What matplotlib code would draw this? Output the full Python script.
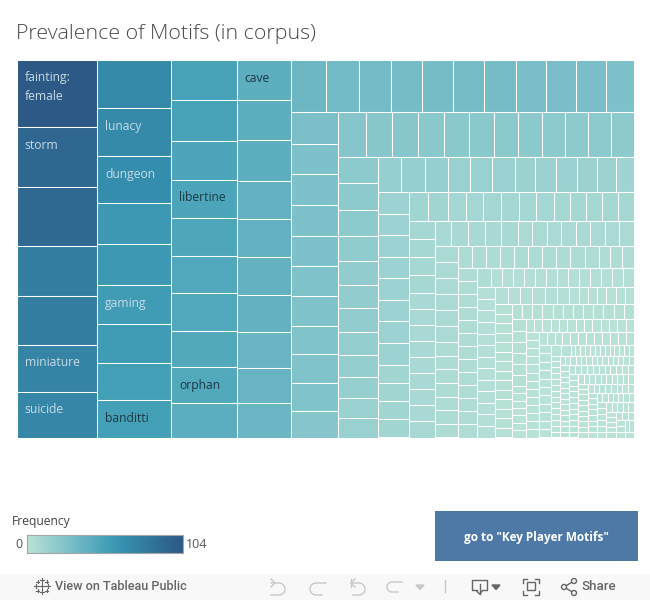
"""
Prevalence of Motifs treemap (Tableau style dashboard)
"""

import numpy as np
import matplotlib
matplotlib.use('Agg')
import matplotlib.pyplot as plt
from matplotlib.colors import LinearSegmentedColormap, Normalize
from matplotlib.patches import Rectangle, Circle

plt.rcParams['font.family'] = ['Open Sans', 'DejaVu Sans']

# Frequencies per strip of the treemap, largest first
col_1 = [104, 93, 92, 76, 76, 73, 71]
col_2 = [69, 69, 66, 59, 59, 56, 56, 53, 53]
col_3 = [51, 51, 49, 49, 48, 47, 47, 46, 46, 43]
col_4 = [42, 42, 42, 40, 40, 39, 39, 37, 37, 36]
row_5 = [35, 33, 32, 31, 31, 31, 31, 30, 30, 30, 28]
col_6 = [29, 28, 28, 28, 28, 27, 27, 26, 26, 26, 24]
row_7 = [24, 23, 23, 22, 22, 22, 21, 21, 20, 20, 20, 20]
col_8 = [20, 20, 20, 19, 18, 18, 18, 17, 17, 16, 15, 15]
row_9 = [16, 16, 16, 15, 15, 15, 14, 14, 14, 14, 13, 12]
col_10 = [13, 13, 13, 13, 13, 13, 13, 13, 11, 11, 11, 11]
row_11 = [11, 11, 10, 10, 10, 10, 10, 10, 9, 9, 9, 9, 9]
col_12 = [9, 9, 9, 9, 8, 8, 8, 8, 8, 8, 8, 8, 8]
row_13 = [8, 8, 8, 8, 8, 7, 7, 7, 7, 7, 7, 7, 7]
col_14 = [7, 7, 7, 7, 7, 7, 6, 6, 6, 6, 6, 6, 6]
row_15 = [6, 6, 6, 6, 6, 6, 6, 6, 6, 6, 5, 5, 5]
col_16 = [5] * 13
row_17 = [5] + [4] * 13
col_18 = [4] * 13
row_19 = [4, 4, 4, 4, 4, 4, 3, 3, 3, 3, 3, 3, 3]
col_20 = [3] * 14
row_21 = [3] * 12
col_22 = [3, 3, 3, 3, 3, 3, 2, 2, 2, 2, 2, 2, 2]
row_23 = [2] * 13
col_24 = [2] * 13
row_25 = [2] * 12
col_26 = [2] * 11
row_27 = [2, 2] + [1] * 13
ones_counts = [14, 14, 13, 11, 11, 10, 10, 8, 8, 7, 6, 5, 5, 3, 3, 2, 1]

strips = [col_1, col_2, col_3, col_4, row_5, col_6, row_7, col_8, row_9,
          col_10, row_11, col_12, row_13, col_14, row_15, col_16, row_17,
          col_18, row_19, col_20, row_21, col_22, row_23, col_24, row_25,
          col_26, row_27]
directions = ['col', 'col', 'col', 'col', 'row', 'col', 'row', 'col', 'row',
              'col', 'row', 'col', 'row', 'col', 'row', 'col', 'row',
              'col', 'row', 'col', 'row', 'col', 'row', 'col', 'row',
              'col', 'row']

# Tail of single-count motifs keeps swapping direction
for i, n in enumerate(ones_counts):
    strips.append([1] * n)
    directions.append('col' if i % 2 == 0 else 'row')

# (strip index, cell index): label
labels = {
    (0, 0): 'fainting:\nfemale',
    (0, 1): 'storm',
    (0, 5): 'miniature',
    (0, 6): 'suicide',
    (1, 1): 'lunacy',
    (1, 2): 'dungeon',
    (1, 5): 'gaming',
    (1, 8): 'banditti',
    (2, 3): 'libertine',
    (2, 8): 'orphan',
    (3, 0): 'cave',
}

legend_min = 0
legend_max = 104

COLORS = ['#bce4d8', '#aedcd5', '#a1d5d2', '#95cecf', '#89c8cc', '#7ec1ca',
          '#72bac6', '#66b2c2', '#59acbe', '#4ba5ba', '#419eb6', '#3b96b2',
          '#358ead', '#3586a7', '#347ea1', '#32779b', '#316f96', '#2f6790',
          '#2d608a', '#2c5985']
cmap = LinearSegmentedColormap.from_list('tealblue', COLORS)
norm = Normalize(legend_min, legend_max)


def layout_cells(strips, directions, width, height):
    """Slice a width x height area into strips, sized by their share of the total"""
    x, y = 0.0, 0.0
    remaining = float(sum(sum(s) for s in strips))
    cells = []
    for idx, (strip, direction) in enumerate(zip(strips, directions)):
        total = sum(strip)
        share = total / remaining
        if direction == 'col':
            w = width * share
            pos = y
            for j, v in enumerate(strip):
                h = height * v / total
                cells.append((idx, j, v, x, pos, w, h))
                pos += h
            x += w
            width -= w
        else:
            h = height * share
            pos = x
            for j, v in enumerate(strip):
                w = width * v / total
                cells.append((idx, j, v, pos, y, w, h))
                pos += w
            y += h
            height -= h
        remaining -= total
    return cells


def draw_treemap(fig):
    ax = fig.add_axes([16.5 / 650, 1 - 437.5 / 600, 617.5 / 650, 377.5 / 600])
    ax.set_xlim(0, 617.5)
    ax.set_ylim(377.5, 0)
    ax.axis('off')

    for idx, j, v, x, y, w, h in layout_cells(strips, directions, 617.5, 377.5):
        ax.add_patch(Rectangle((x, y), w, h, facecolor=cmap(norm(v)),
                               edgecolor='white', linewidth=0.75))
        text = labels.get((idx, j))
        if text:
            color = '#1d3a45' if v < 55 else '#c6dbe6'
            ax.text(x + 8, y + 11.5, text, color=color, fontsize=8.7, va='top',
                    ha='left', linespacing=1.55)


def draw_legend(fig, page):
    page.text(12, 521, 'Frequency', fontsize=8.7, color='#444444', va='center')
    page.text(23, 544, str(legend_min), fontsize=9, color='#555555',
              va='center', ha='right')
    page.text(186, 544, str(legend_max), fontsize=9, color='#555555', va='center')

    bar = fig.add_axes([27 / 650, 1 - 553 / 600, 156 / 650, 18 / 600])
    bar.imshow(np.linspace(0, 1, 256).reshape(1, -1), cmap=cmap, aspect='auto')
    bar.set_xticks([])
    bar.set_yticks([])
    for spine in bar.spines.values():
        spine.set_color('#a5a5a5')
        spine.set_linewidth(0.8)


def draw_toolbar(page):
    page.add_patch(Rectangle((0, 574), 650, 26, facecolor='#f8f8f8', edgecolor='none'))
    dark = '#666666'
    light = '#c8c8c8'

    # Tableau logo, made of small plus signs
    for cx, cy, r in [(42, 586, 4), (42, 580, 2), (42, 592, 2), (36, 586, 2), (48, 586, 2),
                      (37.5, 581.5, 1.5), (46.5, 581.5, 1.5), (37.5, 590.5, 1.5), (46.5, 590.5, 1.5)]:
        page.plot([cx - r, cx + r], [cy, cy], color=dark, lw=0.8)
        page.plot([cx, cx], [cy - r, cy + r], color=dark, lw=0.8)
    page.text(55, 586.5, 'View on Tableau Public', fontsize=9.1, color=dark, va='center',
              family='Roboto', fontweight='medium')

    # undo, redo, undo all, redo all
    t = np.linspace(-np.pi / 2, np.pi / 2, 30)
    page.plot([271, 279] + list(279 + 6 * np.cos(t)) + [271],
              [583, 583] + list(589 + 6 * np.sin(t)) + [595], color=light, lw=1)
    page.plot([271, 275, 271], [579, 583, 587], color=light, lw=1)
    page.plot([326, 316] + list(316 - 6 * np.cos(t)) + [322],
              [583, 583] + list(589 + 6 * np.sin(t)) + [595], color=light, lw=1)
    page.plot([351, 359] + list(359 + 6 * np.cos(t)) + [353],
              [583, 583] + list(589 + 6 * np.sin(t)) + [595], color=light, lw=1)
    page.plot([351, 351], [579, 587], color=light, lw=1)
    page.plot([355, 351, 355], [579, 583, 587], color=light, lw=1)
    page.plot([402, 392] + list(392 - 5 * np.cos(t)) + [398],
              [582, 582] + list(587 + 5 * np.sin(t)) + [592], color=light, lw=1)
    page.fill([416, 424, 420], [585, 585, 589.5], color=light)
    page.plot([445, 445], [580, 592], color=light, lw=1)

    # download
    page.plot([477, 472, 472, 487, 487, 482], [590, 590, 580, 580, 590, 590], color=dark, lw=1)
    page.plot([479.5, 479.5], [584, 594], color=dark, lw=1)
    page.plot([477, 479.5, 482], [591.5, 594, 591.5], color=dark, lw=1)
    page.fill([492, 500, 496], [585, 585, 589.5], color=dark)

    # fullscreen
    page.add_patch(Rectangle((527, 582), 8, 8, fill=False, edgecolor=dark, lw=1))
    for sx, sy in [(523, 579), (539, 579), (523, 595), (539, 595)]:
        dx = 4 if sx < 530 else -4
        dy = 4 if sy < 585 else -4
        page.plot([sx + dx, sx, sx], [sy, sy, sy + dy], color=dark, lw=1)

    # share
    page.plot([574, 564, 574], [581, 587, 593], color=dark, lw=1)
    for cx, cy in [(574, 581), (564, 587), (574, 593)]:
        page.add_patch(Circle((cx, cy), 2.5, facecolor='#f8f8f8', edgecolor=dark, lw=1, zorder=3))
    page.text(582, 586.5, 'Share', fontsize=9.6, color=dark, va='center',
              family='Roboto', fontweight='medium')


def main():
    fig = plt.figure(figsize=(6.5, 6.0), dpi=100, facecolor='white')

    # Full page axes in pixel units for everything around the treemap
    page = fig.add_axes([0, 0, 1, 1])
    page.set_xlim(0, 650)
    page.set_ylim(600, 0)
    page.axis('off')

    page.text(16, 34.5, 'Prevalence of Motifs (in corpus)', fontsize=15.4,
              color='#4a4a4a', va='center', fontweight='light')

    draw_treemap(fig)
    draw_legend(fig, page)

    page.add_patch(Rectangle((435, 511), 203, 50, facecolor='#4e79a7', edgecolor='none'))
    page.text(536.5, 537, 'go to "Key Player Motifs"', fontsize=8.5, color='white',
              fontweight='bold', ha='center', va='center')

    draw_toolbar(page)

    page.set_xlim(0, 650)
    page.set_ylim(600, 0)
    fig.savefig('out.png', dpi=100)
    plt.close(fig)


if __name__ == "__main__":
    main()
